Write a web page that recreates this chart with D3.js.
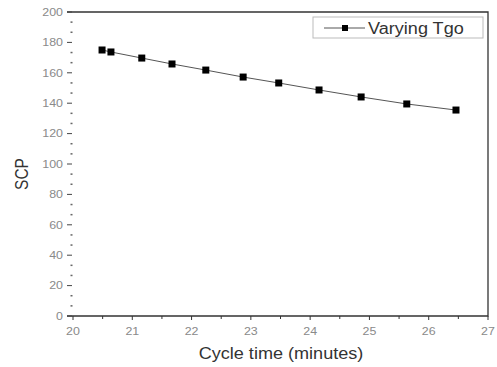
<!DOCTYPE html>
<html>
<head>
<meta charset="utf-8">
<script src="https://cdn.jsdelivr.net/npm/d3@7"></script>
<style>
  body { margin: 0; background: #fff; }
  svg { font-family: "Liberation Sans", Arial, sans-serif; }
</style>
</head>
<body>
<div id="chart"></div>
<script>
// values
const cycleTime = [20.49, 20.64, 21.16, 21.67, 22.24, 22.87, 23.47, 24.15, 24.86, 25.63, 26.46];
const scp = [175, 173.7, 169.7, 165.8, 161.8, 157.2, 153.3, 148.7, 144.1, 139.5, 135.5];
const xTicks = [20, 21, 22, 23, 24, 25, 26, 27];
const yTicks = [0, 20, 40, 60, 80, 100, 120, 140, 160, 180, 200];
const seriesName = 'Varying Tgo';

const width = 497, height = 367;
const frame = { left: 67, right: 488, top: 12, bottom: 316 };
const stretch = 'scale(1.13,1)'; // the original picture is a bit wider than tall

const svg = d3.select('#chart').append('svg')
    .attr('width', width)
    .attr('height', height);

const x = d3.scaleLinear().domain([20, 27]).range([73, frame.right]);
const y = d3.scaleLinear().domain([0, 200]).range([frame.bottom, frame.top]);

// frame: top, right and bottom lines (left spine is not visible in the original)
svg.append('path')
    .attr('d', `M${frame.left},${frame.top}H${frame.right}V${frame.bottom}H${frame.left}`)
    .attr('fill', 'none')
    .attr('stroke', '#333')
    .attr('stroke-width', 1.3);

// x axis ticks
const xMinor = d3.range(20.5, 27, 1);
svg.append('g').selectAll('line.major')
    .data(xTicks).enter().append('line')
    .attr('x1', d => x(d)).attr('x2', d => x(d))
    .attr('y1', frame.bottom).attr('y2', frame.bottom + 4)
    .attr('stroke', '#333');
svg.append('g').selectAll('line.minor')
    .data(xMinor).enter().append('line')
    .attr('x1', d => x(d)).attr('x2', d => x(d))
    .attr('y1', frame.bottom).attr('y2', frame.bottom + 3)
    .attr('stroke', '#333');
svg.append('g').selectAll('text')
    .data(xTicks).enter().append('text')
    .attr('transform', d => `translate(${x(d)},${frame.bottom + 19}) ${stretch}`)
    .attr('text-anchor', 'middle')
    .attr('font-size', 11)
    .attr('fill', '#8a8a8a')
    .text(d => d);

// y axis ticks: two minor ticks between majors
const yMinor = [];
yTicks.slice(1).forEach(v => { yMinor.push(v - 20 / 3, v - 40 / 3); });
svg.append('g').selectAll('line')
    .data(yTicks).enter().append('line')
    .attr('x1', frame.left).attr('x2', frame.left + 5)
    .attr('y1', d => y(d)).attr('y2', d => y(d))
    .attr('stroke', '#444');
svg.append('g').selectAll('rect')
    .data(yMinor).enter().append('rect')
    .attr('x', frame.left + 3.5)
    .attr('y', d => y(d) - 0.75)
    .attr('width', 2).attr('height', 1.5)
    .attr('fill', '#666');
svg.append('g').selectAll('text')
    .data(yTicks).enter().append('text')
    .attr('transform', d => `translate(${frame.left - 4},${y(d)}) ${stretch}`)
    .attr('dy', '0.35em')
    .attr('text-anchor', 'end')
    .attr('font-size', 11)
    .attr('fill', '#8a8a8a')
    .text(d => d);

// axis titles
svg.append('text')
    .attr('transform', `translate(281,359) ${stretch}`)
    .attr('text-anchor', 'middle')
    .attr('font-size', 16)
    .attr('fill', '#333')
    .text('Cycle time (minutes)');
svg.append('text')
    .attr('transform', 'translate(28,174) scale(1.13,1) rotate(-90)')
    .attr('text-anchor', 'middle')
    .attr('font-size', 15.5)
    .attr('fill', '#333')
    .text('SCP');

// series
const pts = cycleTime.map((t, i) => [t, scp[i]]);
svg.append('path')
    .datum(pts)
    .attr('d', d3.line().x(d => x(d[0])).y(d => y(d[1])))
    .attr('fill', 'none')
    .attr('stroke', '#555')
    .attr('stroke-width', 1);
svg.append('g').selectAll('rect')
    .data(pts).enter().append('rect')
    .attr('x', d => x(d[0]) - 3.5)
    .attr('y', d => y(d[1]) - 3.5)
    .attr('width', 7).attr('height', 7)
    .attr('fill', '#000');

// legend
const legend = svg.append('g');
legend.append('rect')
    .attr('x', 313).attr('y', 17)
    .attr('width', 170).attr('height', 21)
    .attr('fill', '#fff')
    .attr('stroke', '#bbb');
legend.append('line')
    .attr('x1', 324).attr('x2', 365)
    .attr('y1', 28).attr('y2', 28)
    .attr('stroke', '#555');
legend.append('rect')
    .attr('x', 342).attr('y', 25)
    .attr('width', 6).attr('height', 6)
    .attr('fill', '#000');
legend.append('text')
    .attr('transform', `translate(368,34) ${stretch}`)
    .attr('font-size', 16)
    .attr('fill', '#333')
    .text(seriesName);
</script>
</body>
</html>
